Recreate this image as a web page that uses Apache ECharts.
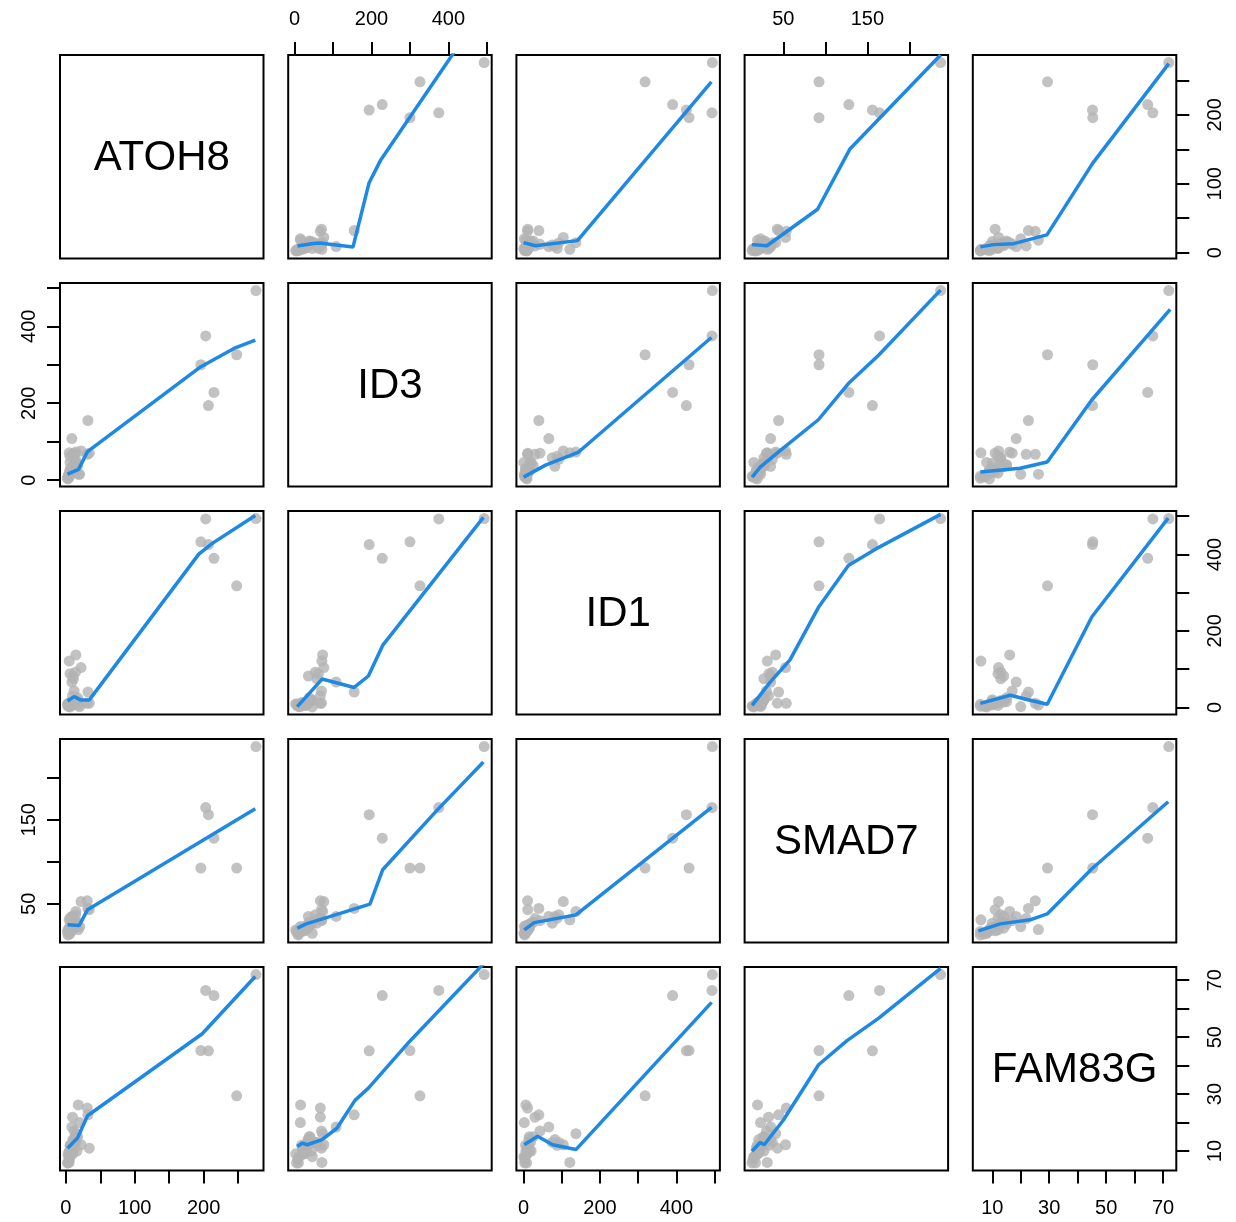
<!DOCTYPE html>
<html><head><meta charset="utf-8">
<script src="https://cdn.jsdelivr.net/npm/echarts@6/dist/echarts.min.js"></script>
<style>html,body{margin:0;padding:0;background:#fff}#c{width:1236px;height:1222px}</style>
</head><body><div id="c"></div>
<script>
// ---- data (one value per sample, same order in every array) ----
const varNames = ['ATOH8', 'ID3', 'ID1', 'SMAD7', 'FAM83G'];
const ATOH8  = [207, 215, 248, 196, 203, 276, 32, 8.7, 14.5, 4.8, 22, 31, 18, 9.7, 34, 14, 10, 12, 6, 3, 2.4, 5, 7, 15, 10, 12, 4, 8, 11, 9, 13, 20, 6, 5, 16, 3, 7, 11, 17, 6];
const ID3    = [194, 228, 326, 300, 375, 493, 155, 108, 73, 71, 76, 67, 15.5, 67, 70, 54, 36, 70, 46, 10, 5, 20, 30, 40, 25, 35, 12, 22, 58, 28, 45, 15, 62, 8, 44, 3, 18, 32, 38, 26];
const ID1    = [426, 390, 318, 433, 493, 494, 40, 66, 137, 121, 104, 10.5, 6, 30, 11, 92, 82, 43, 1, 3, 8, 12, 5, 15, 8, 14, 4, 10, 75, 6, 18, 2, 88, 3, 20, 9, 12, 16, 25, 7];
const SMAD7  = [156, 128, 92.5, 92.5, 164.5, 237, 44.5, 35, 41, 31, 52.7, 53.6, 19.4, 32.5, 43, 37, 35, 30, 15, 13, 17, 22, 24, 26, 20, 21, 16, 18, 27, 21, 26, 23, 33, 14, 27, 19, 19, 22, 28, 18];
const FAM83G = [45.2, 64.6, 29.4, 45.3, 66.4, 72, 22.7, 18.4, 16.1, 6, 12.2, 25.1, 26.2, 21.9, 11, 13, 14, 17, 8, 5.8, 5.8, 10, 12, 15, 9, 14, 8, 11, 13, 10, 13, 20, 12, 7, 10, 9, 12, 10, 15, 9];

// ---- smoother (lowess) curves: [x value, y value] ----
// name: fit_<row variable>_<column variable>
const fit_ATOH8_ID3    = [[7.7, 9.7], [44, 13], [64.5, 14], [152, 8.3], [193.5, 101], [224.5, 135], [493, 355]];
const fit_ATOH8_ID1    = [[0, 14.5], [31, 10], [141, 17.4], [491.5, 248]];
const fit_ATOH8_SMAD7  = [[12.7, 11.6], [30.6, 10], [90.8, 63], [129, 150], [237, 287]];
const fit_ATOH8_FAM83G = [[5.8, 8.3], [10.5, 11.6], [17.5, 13], [29.2, 25.7], [45.3, 130], [72, 274.5]];
const fit_ID3_ATOH8    = [[2.4, 15.7], [18.4, 28], [31.4, 74], [196, 295], [246, 344], [275, 364]];
const fit_ID3_ID1      = [[0, 7.8], [57.5, 39], [144, 73], [491.5, 371]];
const fit_ID3_SMAD7    = [[13, 7.8], [22.6, 34], [44, 73], [91.7, 157], [127.4, 251], [163, 324], [237, 494]];
const fit_ID3_FAM83G   = [[5.8, 21], [19.8, 31], [29.3, 47], [45, 209], [72.5, 444]];
const fit_ID1_ATOH8    = [[2.4, 16.6], [12, 28], [21.7, 19], [33.8, 19], [193, 401], [212.6, 429], [275, 502]];
const fit_ID1_ID3      = [[7, 2], [71.5, 74], [155, 52], [192, 82], [229, 162], [491, 497]];
const fit_ID1_SMAD7    = [[13, 5], [34.5, 66], [58, 124], [91.7, 261], [127.4, 371], [163, 418], [237, 505]];
const fit_ID1_FAM83G   = [[5.8, 10.5], [16.3, 31.6], [23.3, 18.4], [29.3, 7.9], [45, 237], [71.8, 495]];
const fit_SMAD7_ATOH8  = [[2.4, 25], [19.3, 24.2], [31.4, 42.9], [275, 163]];
const fit_SMAD7_ID3    = [[7, 21], [28.4, 25.8], [196, 49.6], [229, 90.5], [372, 162], [491, 218.7]];
const fit_SMAD7_ID1    = [[1.8, 19], [28, 27.7], [137, 36.9], [492, 164.6]];
const fit_SMAD7_FAM83G = [[5.1, 17.9], [12.8, 26.2], [23.3, 31], [29.3, 38], [45, 91.7], [71.8, 171.4]];
const fit_FAM83G_ATOH8 = [[2.4, 11], [16.9, 14.6], [31.4, 22.4], [198, 51.2], [275, 71.3]];
const fit_FAM83G_ID3   = [[7, 11.6], [20, 12.8], [33, 12.2], [71.5, 14], [110, 18], [157, 27.8], [192, 32.1], [299, 48.5], [493, 76]];
const fit_FAM83G_ID1   = [[1.8, 12.2], [36.6, 15.2], [76, 12.2], [137, 10.5], [492, 62.2]];
const fit_FAM83G_SMAD7 = [[12.7, 9.9], [22.6, 13], [27.4, 12.2], [50.4, 21], [92, 40.3], [125.8, 48.8], [163.5, 56.7], [237, 74.2]];

// ---- tick marks and tick labels per variable ----
const ticksATOH8  = [0, 50, 100, 150, 200, 250];
const labelsATOH8 = [0, 100, 200];
const ticksID3    = [0, 100, 200, 300, 400, 500];
const labelsID3   = [0, 200, 400];
const ticksID1    = [0, 100, 200, 300, 400, 500];
const labelsID1   = [0, 200, 400];
const ticksSMAD7  = [50, 100, 150, 200];
const labelsSMAD7 = [50, 150];
const ticksFAM83G  = [10, 20, 30, 40, 50, 60, 70];
const labelsFAM83G = [10, 30, 50, 70];

const vars = [ATOH8, ID3, ID1, SMAD7, FAM83G];
const ticks = [ticksATOH8, ticksID3, ticksID1, ticksSMAD7, ticksFAM83G];
const labels = [labelsATOH8, labelsID3, labelsID1, labelsSMAD7, labelsFAM83G];
const fits = {
  ATOH8_ID3: fit_ATOH8_ID3, ATOH8_ID1: fit_ATOH8_ID1, ATOH8_SMAD7: fit_ATOH8_SMAD7, ATOH8_FAM83G: fit_ATOH8_FAM83G,
  ID3_ATOH8: fit_ID3_ATOH8, ID3_ID1: fit_ID3_ID1, ID3_SMAD7: fit_ID3_SMAD7, ID3_FAM83G: fit_ID3_FAM83G,
  ID1_ATOH8: fit_ID1_ATOH8, ID1_ID3: fit_ID1_ID3, ID1_SMAD7: fit_ID1_SMAD7, ID1_FAM83G: fit_ID1_FAM83G,
  SMAD7_ATOH8: fit_SMAD7_ATOH8, SMAD7_ID3: fit_SMAD7_ID3, SMAD7_ID1: fit_SMAD7_ID1, SMAD7_FAM83G: fit_SMAD7_FAM83G,
  FAM83G_ATOH8: fit_FAM83G_ATOH8, FAM83G_ID3: fit_FAM83G_ID3, FAM83G_ID1: fit_FAM83G_ID1, FAM83G_SMAD7: fit_FAM83G_SMAD7
};

// ---- layout ----
const S = 203.5;
const colL = [0, 1, 2, 3, 4].map(j => 60 + j * 228.2);
const rowT = [0, 1, 2, 3, 4].map(i => 55 + i * 228);
const FONT = "'Liberation Sans', Arial, Helvetica, sans-serif";
const ranges = vars.map(a => {
  const mn = Math.min(...a), mx = Math.max(...a), r = mx - mn;
  return [mn - 0.04 * r, mx + 0.04 * r];
});

const grid = [], xAxis = [], yAxis = [], series = [], graphic = [];
for (let i = 0; i < 5; i++) {
  for (let j = 0; j < 5; j++) {
    const idx = i * 5 + j;
    grid.push({ left: colL[j], top: rowT[i], width: S, height: S, show: true,
      borderColor: '#000', borderWidth: 2, backgroundColor: 'transparent',
      containLabel: false, outerBoundsMode: 'none' });
    const xTop = (i === 0 && j % 2 === 1);
    const xBot = (i === 4 && j % 2 === 0);
    const showX = xTop || xBot;
    xAxis.push({ type: 'value', gridIndex: idx, min: ranges[j][0], max: ranges[j][1],
      position: xTop ? 'top' : 'bottom',
      axisLine: { show: false, onZero: false }, splitLine: { show: false },
      axisTick: { show: showX, length: 13, customValues: ticks[j], lineStyle: { color: '#000', width: 2 } },
      axisLabel: { show: showX, customValues: labels[j], margin: xTop ? 26 : 28,
        fontSize: 20, fontFamily: FONT, color: '#000' } });
    const yLeft = (j === 0 && i % 2 === 1);
    const yRight = (j === 4 && i % 2 === 0);
    const showY = yLeft || yRight;
    yAxis.push({ type: 'value', gridIndex: idx, min: ranges[i][0], max: ranges[i][1],
      position: yRight ? 'right' : 'left',
      axisLine: { show: false, onZero: false }, splitLine: { show: false },
      axisTick: { show: showY, length: 13, customValues: ticks[i], lineStyle: { color: '#000', width: 2 } },
      axisLabel: { show: showY, customValues: labels[i], rotate: 90, margin: yRight ? 29 : 21,
        fontSize: 20, fontFamily: FONT, color: '#000' } });
    if (i === j) {
      graphic.push({ type: 'text', x: colL[j] + S / 2, y: rowT[i] + S / 2 + 2,
        style: { text: varNames[i], fontSize: 42, fontFamily: FONT, fill: '#000',
          textAlign: 'center', textVerticalAlign: 'middle' } });
    } else {
      series.push({ type: 'scatter', xAxisIndex: idx, yAxisIndex: idx,
        data: vars[j].map((v, k) => [v, vars[i][k]]),
        symbolSize: 11, itemStyle: { color: '#B3B3B3' }, silent: true });
      series.push({ type: 'line', xAxisIndex: idx, yAxisIndex: idx,
        data: fits[varNames[i] + '_' + varNames[j]], showSymbol: false, symbol: 'none',
        lineStyle: { color: '#1E88E5', width: 3.5 }, clip: true, silent: true });
    }
  }
}

const chart = echarts.init(document.getElementById('c'), null, { renderer: 'canvas' });
chart.setOption({ animation: false, backgroundColor: '#fff', grid, xAxis, yAxis, series, graphic });
</script></body></html>
